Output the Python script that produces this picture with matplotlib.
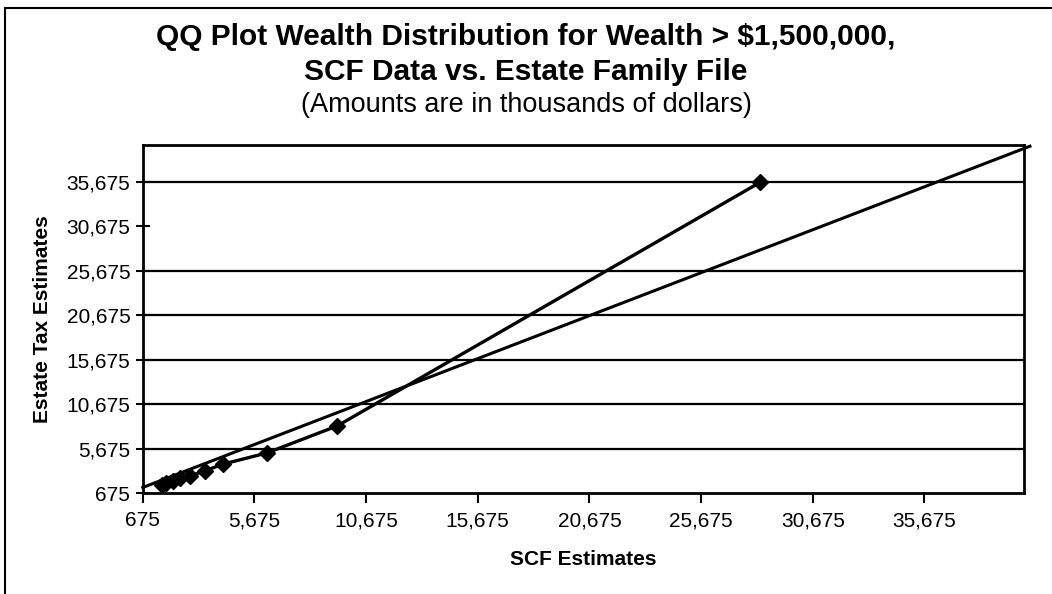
import matplotlib.pyplot as plt
from matplotlib.patches import Rectangle
from matplotlib.ticker import FuncFormatter

plt.rcParams['font.family'] = ['Liberation Sans', 'DejaVu Sans']

# Data (thousands of dollars)
scf_est = [1530, 1720, 2030, 2350, 2790, 3470, 4290, 6230, 9380, 28320]
estate_est = [1580, 1800, 2030, 2310, 2590, 3190, 3940, 5180, 8220, 35640]

# straight reference line, end points
ref_x = [675, 40400]
ref_y = [1300, 39700]

ticks = [675, 5675, 10675, 15675, 20675, 25675, 30675, 35675]
grid_y = [5675, 10675, 15675, 20675, 25675, 35675]

fig = plt.figure(figsize=(10.52, 5.94), dpi=100)
ax = fig.add_axes([0.1357, 0.1700, 0.8378, 0.5864])

for g in grid_y:
    ax.axhline(g, color="black", lw=1.6, zorder=1)

ax.plot(ref_x, ref_y, color="black", lw=2.2, clip_on=False, zorder=3)
ax.plot(scf_est, estate_est, color="black", lw=2.4, marker="D",
        markersize=8, zorder=4)

ax.set_xlim(675, 40140)
ax.set_ylim(675, 39870)
ax.set_xticks(ticks)
ax.set_yticks(ticks)
fmt = FuncFormatter(lambda v, p: f"{int(v):,}")
ax.xaxis.set_major_formatter(fmt)
ax.yaxis.set_major_formatter(fmt)
ax.tick_params(axis="x", direction="out", length=7, width=1.5,
               labelsize=15, pad=6)
ax.tick_params(axis="y", direction="inout", length=10, width=1.5,
               labelsize=15, pad=4)
for s in ax.spines.values():
    s.set_linewidth(2)

ax.set_xlabel("SCF Estimates", fontsize=15, fontweight="bold", labelpad=14)
ax.set_ylabel("Estate Tax Estimates", fontsize=15, fontweight="bold",
              labelpad=10)

fig.text(0.5, 0.924, "QQ Plot Wealth Distribution for Wealth > $1,500,000,",
         ha="center", va="baseline", fontsize=21.5, fontweight="bold")
fig.text(0.5, 0.866, "SCF Data vs. Estate Family File",
         ha="center", va="baseline", fontsize=21.5, fontweight="bold")
fig.text(0.5, 0.812, "(Amounts are in thousands of dollars)",
         ha="center", va="baseline", fontsize=19.5)

# outer chart border
fig.patches.append(Rectangle((5 / 1052, -0.05), 1.2, 1.05 - 8 / 594,
                             transform=fig.transFigure, fill=False,
                             edgecolor="black", lw=1.5))

fig.savefig("out.png", dpi=100)
